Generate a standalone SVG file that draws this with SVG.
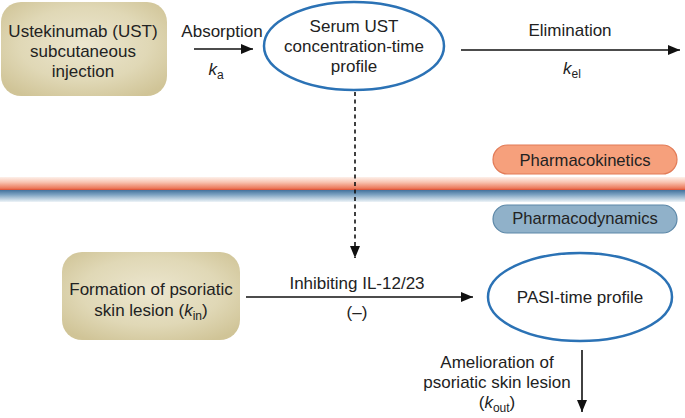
<svg xmlns="http://www.w3.org/2000/svg" width="685" height="418" viewBox="0 0 685 418">
<style>
text{font-family:"Liberation Sans",Arial,sans-serif;font-size:17px;fill:#222;text-anchor:middle}
.box{fill:url(#tan);stroke:none}
.ell{fill:#fff;stroke:#2b72b5;stroke-width:2.5}
.ln{stroke:#111;stroke-width:1.6;fill:none}
.dash{stroke:#111;stroke-width:1.6;fill:none;stroke-dasharray:4 3.5}
.it{font-style:italic}
.sub{font-size:12px}
.pill{font-size:16.6px}
</style>
<defs>
<radialGradient id="tan" cx="50%" cy="45%" r="65%">
<stop offset="0" stop-color="#ece6cf"/>
<stop offset="0.6" stop-color="#e0d8b6"/>
<stop offset="1" stop-color="#d0c497"/>
</radialGradient>
<linearGradient id="stripe" x1="0" y1="0" x2="0" y2="1">
<stop offset="0" stop-color="#fdf0ea"/>
<stop offset="0.2" stop-color="#f9c6b4"/>
<stop offset="0.45" stop-color="#ec7a5c"/>
<stop offset="0.5" stop-color="#e05a3e"/>
<stop offset="0.5" stop-color="#3d6c98"/>
<stop offset="0.7" stop-color="#7aa0c0"/>
<stop offset="1" stop-color="#eef4f8"/>
</linearGradient>
<marker id="ah" viewBox="0 0 12 10" refX="12" refY="5" markerWidth="12" markerHeight="10" markerUnits="userSpaceOnUse" orient="auto">
<path d="M0,0 L12,5 L0,10 z" fill="#111"/>
</marker>
</defs>

<rect x="0" y="177" width="685" height="25" fill="url(#stripe)"/>

<g id="ust-injection">
<rect class="box" x="1" y="2" width="166" height="94" rx="20"/>
<text x="83" y="37">Ustekinumab (UST)</text>
<text x="83" y="57">subcutaneous</text>
<text x="83" y="77">injection</text>
</g>

<g id="serum-profile">
<ellipse class="ell" cx="354" cy="46" rx="90" ry="44"/>
<text x="354" y="32">Serum UST</text>
<text x="354" y="52">concentration-time</text>
<text x="354" y="72">profile</text>
</g>

<g id="pk-label">
<rect x="493" y="145" width="184" height="29" rx="14.5" fill="#f6a07c" stroke="#e27b57" stroke-width="1.2"/>
<text class="pill" x="585" y="166">Pharmacokinetics</text>
</g>

<g id="pd-label">
<rect x="493" y="205" width="184" height="28" rx="14" fill="#90b1c9" stroke="#5d88a8" stroke-width="1.2"/>
<text class="pill" x="585" y="224">Pharmacodynamics</text>
</g>

<g id="lesion-formation">
<rect class="box" x="62" y="252" width="178" height="88" rx="20"/>
<text x="151" y="295">Formation of psoriatic</text>
<text x="151" y="316">skin lesion (<tspan class="it">k</tspan><tspan class="sub" dy="4">in</tspan><tspan dy="-4">)</tspan></text>
</g>

<g id="pasi-profile">
<ellipse class="ell" cx="580" cy="297" rx="92" ry="44"/>
<text x="580" y="303">PASI-time profile</text>
</g>

<g id="connectors">
<line class="ln" x1="194" y1="49" x2="253" y2="49" marker-end="url(#ah)"/>
<line class="ln" x1="461" y1="50" x2="680" y2="50" marker-end="url(#ah)"/>
<line class="dash" x1="355" y1="92" x2="355" y2="258" marker-end="url(#ah)"/>
<line class="ln" x1="246" y1="297" x2="473" y2="297" marker-end="url(#ah)"/>
<line class="ln" x1="582" y1="350" x2="582" y2="412" marker-end="url(#ah)"/>
</g>

<g id="labels">
<text x="222" y="37">Absorption</text>
<text x="216" y="75"><tspan class="it">k</tspan><tspan class="sub" dy="4">a</tspan></text>
<text x="570" y="36">Elimination</text>
<text x="572" y="74"><tspan class="it">k</tspan><tspan class="sub" dy="4">el</tspan></text>
<text x="357" y="289">Inhibiting IL-12/23</text>
<text x="357" y="318">(–)</text>
<text x="497" y="368">Amelioration of</text>
<text x="497" y="388">psoriatic skin lesion</text>
<text x="497" y="408">(<tspan class="it">k</tspan><tspan class="sub" dy="4">out</tspan><tspan dy="-4">)</tspan></text>
</g>
</svg>
